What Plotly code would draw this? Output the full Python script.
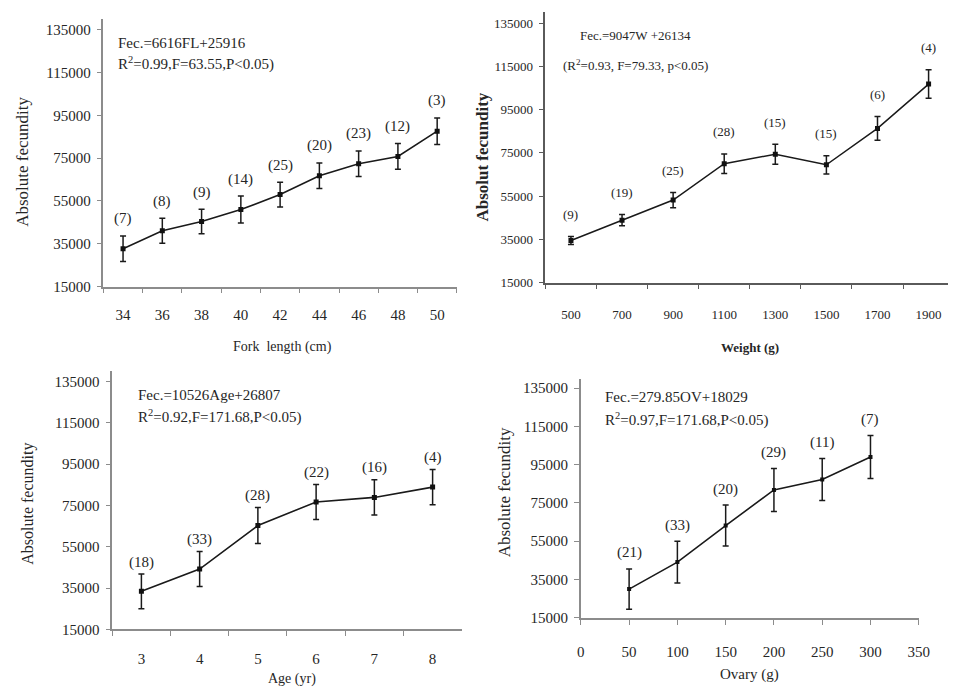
import plotly.graph_objects as go

# ---------------- data ----------------
fork_length = ["34", "36", "38", "40", "42", "44", "46", "48", "50"]
fec_fl = [32700, 41100, 45400, 51000, 58000, 66800, 72400, 75800, 87600]
err_fl = [6000, 5800, 5700, 6300, 5800, 6000, 6000, 6000, 6200]
n_fl = [7, 8, 9, 14, 25, 20, 23, 12, 3]

weight = ["500", "700", "900", "1100", "1300", "1500", "1700", "1900"]
fec_w = [34500, 43900, 53200, 70000, 74400, 69500, 86300, 106800]
err_w = [1800, 2600, 3500, 4500, 4600, 4200, 5500, 6600]
n_w = [9, 19, 25, 28, 15, 15, 6, 4]

age = ["3", "4", "5", "6", "7", "8"]
fec_age = [33400, 44200, 65300, 76700, 78900, 83900]
err_age = [8400, 8500, 8700, 8500, 8500, 8500]
n_age = [18, 33, 28, 22, 16, 4]

ovary = [50, 100, 150, 200, 250, 300]
fec_ov = [30000, 44100, 63200, 81800, 87300, 99000]
err_ov = [10500, 10900, 10700, 11200, 11000, 11200]
n_ov = [21, 33, 20, 29, 11, 7]

y_ticks = [15000, 35000, 55000, 75000, 95000, 115000, 135000]
ov_ticks = [0, 50, 100, 150, 200, 250, 300, 350]

W, H = 959, 694
FONT = "Times New Roman, Liberation Serif, DejaVu Serif, serif"
TXT = "#262626"

def px(x):
    return x / W

def py(y):
    return 1 - y / H

fig = go.Figure()

panels = [
    dict(x=fork_length, y=fec_fl, e=err_fl, n=n_fl, ax="", shift=17, lw=1.6, ms=5, fs=15, cat=True),
    dict(x=weight, y=fec_w, e=err_w, n=n_w, ax="2", shift=22, lw=1.5, ms=5, fs=13, cat=True),
    dict(x=age, y=fec_age, e=err_age, n=n_age, ax="3", shift=12, lw=1.6, ms=5, fs=15, cat=True),
    dict(x=ovary, y=fec_ov, e=err_ov, n=n_ov, ax="4", shift=16, lw=1.6, ms=4, fs=15, cat=False),
]

annotations = []
for p in panels:
    fig.add_trace(go.Scatter(
        x=p["x"], y=p["y"], mode="lines+markers",
        line=dict(color="#1a1a1a", width=p["lw"]),
        marker=dict(color="#111111", size=p["ms"], symbol="square"),
        error_y=dict(type="data", array=p["e"], visible=True, color="#1a1a1a",
                     thickness=1.5, width=3),
        xaxis="x" + p["ax"], yaxis="y" + p["ax"], showlegend=False,
        hoverinfo="skip",
    ))
    for i, (xv, yv, ev, nv) in enumerate(zip(p["x"], p["y"], p["e"], p["n"])):
        annotations.append(dict(
            x=(i if p["cat"] else xv), y=yv + ev, xref="x" + p["ax"], yref="y" + p["ax"],
            text=f"({nv})", showarrow=False, yshift=p["shift"],
            font=dict(family=FONT, size=p["fs"], color=TXT),
        ))

def yaxis_cfg(domain, anchor, fs, color="#8c8c8c"):
    return dict(
        domain=domain, anchor=anchor, range=[15000, 140000],
        tickvals=y_ticks, ticktext=[str(v) for v in y_ticks],
        showgrid=False, zeroline=False, showline=True, linecolor=color, linewidth=1.5,
        ticks="outside", ticklen=5, tickcolor=color, tickwidth=1.2,
        tickfont=dict(family=FONT, size=fs, color=TXT), ticklabelstandoff=3,
    )

def xcat_cfg(domain, anchor, rng, fs, standoff, color="#8c8c8c"):
    return dict(
        domain=domain, anchor=anchor, type="category", range=rng,
        tickson="boundaries", showgrid=False, zeroline=False,
        showline=True, linecolor=color, linewidth=1.5,
        ticks="outside", ticklen=5, tickcolor=color, tickwidth=1.2,
        tickfont=dict(family=FONT, size=fs, color=TXT), ticklabelstandoff=standoff,
    )

layout = dict(
    width=W, height=H, margin=dict(l=0, r=0, t=0, b=0),
    paper_bgcolor="white", plot_bgcolor="white", showlegend=False,
    xaxis=xcat_cfg([px(101), px(460)], "y", [-0.5, 8.5], 15, 14),
    yaxis=yaxis_cfg([py(290), py(19.2)], "x", 15),
    xaxis2=xcat_cfg([px(550), px(959)], "y2", [-0.5, 7.38], 13, 19, "#5a5a5a"),
    yaxis2=yaxis_cfg([py(286), py(12.4)], "x2", 13, "#5a5a5a"),
    xaxis3=xcat_cfg([px(110), px(465)], "y3", [-0.5, 5.5], 15, 15),
    yaxis3=yaxis_cfg([py(636.7), py(375.6)], "x3", 15),
    xaxis4=dict(
        domain=[px(586), px(929.3)], anchor="y4", range=[0, 350],
        tickvals=ov_ticks, ticktext=[str(v) for v in ov_ticks],
        showgrid=False, zeroline=False, showline=True, linecolor="#8c8c8c", linewidth=1.5,
        ticks="outside", ticklen=5, tickcolor="#8c8c8c", tickwidth=1.2,
        tickfont=dict(family=FONT, size=15, color=TXT), ticklabelstandoff=14,
    ),
    yaxis4=yaxis_cfg([py(625), py(383)], "x4", 15),
)

def txt(x, y, s, size=15, bold=False, angle=0, xanchor="center"):
    return dict(
        x=px(x), y=py(y), xref="paper", yref="paper", text=(f"<b>{s}</b>" if bold else s),
        showarrow=False, textangle=angle, xanchor=xanchor, yanchor="middle",
        font=dict(family=FONT, size=size, color=TXT),
    )

annotations += [
    # equations
    txt(114, 44, "Fec.=6616FL+25916", 15, xanchor="left"),
    txt(114, 64, "R<sup>2</sup>=0.99,F=63.55,P&lt;0.05)", 15, xanchor="left"),
    txt(583, 36, "Fec.=9047W +26134", 13, xanchor="left"),
    txt(566, 66, "(R<sup>2</sup>=0.93, F=79.33, p&lt;0.05)", 13, xanchor="left"),
    txt(134, 400, "Fec.=10526Age+26807", 15, xanchor="left"),
    txt(134, 421, "R<sup>2</sup>=0.92,F=171.68,P&lt;0.05)", 15, xanchor="left"),
    txt(609, 402, "Fec.=279.85OV+18029", 15, xanchor="left"),
    txt(609, 424, "R<sup>2</sup>=0.97,F=171.68,P&lt;0.05)", 15, xanchor="left"),
    # axis titles
    txt(283, 351, "Fork  length (cm)", 14),
    txt(18, 164, "Absolute fecundity", 17, angle=-90),
    txt(758, 352, "Weight (g)", 13, bold=True),
    txt(486, 159, "Absolut fecundity", 17, bold=True, angle=-90),
    txt(293, 687, "Age (yr)", 14),
    txt(25, 510, "Absolute fecundity", 16, angle=-90),
    txt(757, 682, "Ovary (g)", 15),
    txt(508, 498, "Absolute fecundity", 17, angle=-90),
]
layout["annotations"] = annotations
fig.update_layout(**layout)

fig.write_html("out.html")
